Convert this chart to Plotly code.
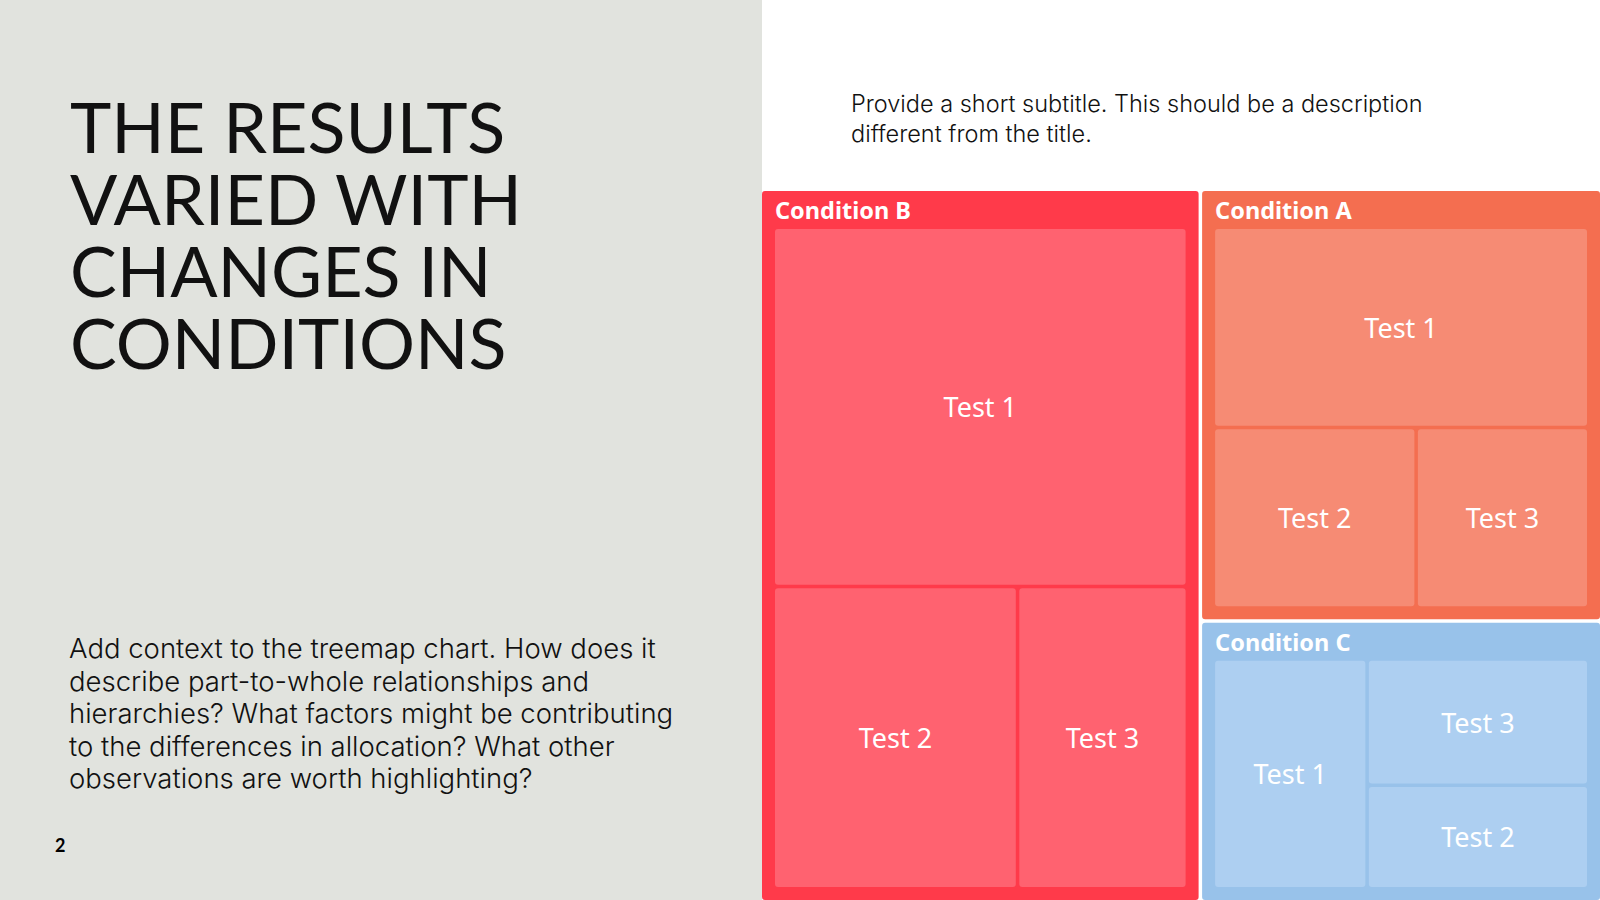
import plotly.graph_objects as go

# ---- data ----
conditions = ["Condition B", "Condition A", "Condition C"]
tests = ["Test 1", "Test 2", "Test 3"]
values_b = [28.4, 14.1, 9.8]
values_a = [15.2, 7.4, 6.3]
values_c = [7.7, 5.0, 6.1]

title_lines = ["THE RESULTS", "VARIED WITH", "CHANGES IN", "CONDITIONS"]
body_lines = [
    "Add context to the treemap chart. How does it",
    "describe part-to-whole relationships and",
    "hierarchies? What factors might be contributing",
    "to the differences in allocation? What other",
    "observations are worth highlighting?",
]
subtitle_lines = [
    "Provide a short subtitle. This should be a description",
    "different from the title.",
]
page_number = "2"

parent_colors = ["#FF3A4A", "#F46E50", "#98C2EA"]
leaf_colors = ["#FF6270", "#F68B74", "#ADCFF1"]

# ---- page geometry (px) ----
PAD_T, PAD_S = 38, 13          # header height and side padding of each condition box
W, H = 1600 + PAD_S, 900 + PAD_S  # extra strip compensates the hidden root's padding
PANEL_W = 762                  # width of the grey text panel
MAP_TOP = 191                  # top of the treemap boxes

def px_x(v):
    return v / W

def px_y(v):
    return 1 - v / H

# ---- build hierarchy ----
ids, labels, parents, vals, colors = [], [], [], [], []
all_vals = [values_b, values_a, values_c]
for i, c in enumerate(conditions):
    ids.append(c); labels.append(c); parents.append(""); vals.append(round(sum(all_vals[i]), 3))
    colors.append(parent_colors[i])
for i, c in enumerate(conditions):
    for j, t in enumerate(tests):
        ids.append(c + "/" + t); labels.append(t); parents.append(c); vals.append(all_vals[i][j])
        colors.append(leaf_colors[i])

n_par = len(conditions)
n_leaf = len(ids) - n_par
clear = "rgba(0,0,0,0)"

domain = dict(x=[px_x(PANEL_W - PAD_S), 1.0], y=[0.0, px_y(MAP_TOP - PAD_T)])
pad = dict(t=PAD_T, l=PAD_S, r=PAD_S, b=PAD_S)
FONT = "Noto Sans"

common = dict(ids=ids, labels=labels, parents=parents, values=vals,
              branchvalues="total", sort=True, domain=domain,
              pathbar=dict(visible=False), hoverinfo="skip",
              tiling=dict(packing="squarify", pad=3.5))

fig = go.Figure()
# base trace: coloured tiles + header labels
fig.add_trace(go.Treemap(
    **common,
    marker=dict(colors=colors, line=dict(width=0), pad=pad, cornerradius=3),
    textposition="top left",
    textfont=dict(family=FONT, size=25, weight=700,
                  color=["#FFFFFF"] * n_par + [clear] * n_leaf),
))
# overlay trace: centred leaf labels
fig.add_trace(go.Treemap(
    **common,
    marker=dict(colors=[clear] * len(ids), line=dict(color=clear, width=0),
                pad=pad, cornerradius=3),
    textposition="middle center",
    textfont=dict(family=FONT, size=27, weight=400,
                  color=[clear] * n_par + ["#FFFFFF"] * n_leaf),
))

annotations = []
for k, line in enumerate(title_lines):
    annotations.append(dict(text=line, x=px_x(68), y=px_y(126 + 72 * k),
                            xref="paper", yref="paper", xanchor="left", yanchor="middle",
                            showarrow=False,
                            font=dict(family="Lato", size=70, color="#111111", weight=400)))
for k, line in enumerate(body_lines):
    annotations.append(dict(text=line, x=px_x(67), y=px_y(648 + 32.6 * k),
                            xref="paper", yref="paper", xanchor="left", yanchor="middle",
                            showarrow=False,
                            font=dict(family="Inter", size=27.5, color="#111111", weight=300)))
for k, line in enumerate(subtitle_lines):
    annotations.append(dict(text=line, x=px_x(849), y=px_y(103 + 31 * k),
                            xref="paper", yref="paper", xanchor="left", yanchor="middle",
                            showarrow=False,
                            font=dict(family="Inter", size=23.5, color="#111111", weight=300)))
annotations.append(dict(text="<b>" + page_number + "</b>", x=px_x(53), y=px_y(845),
                        xref="paper", yref="paper", xanchor="left", yanchor="middle",
                        showarrow=False, font=dict(family="Lato", size=18, color="#000000")))

fig.update_layout(
    width=W, height=H,
    margin=dict(l=0, r=0, t=0, b=0),
    paper_bgcolor="#FFFFFF",
    shapes=[dict(type="rect", xref="paper", yref="paper", x0=0, x1=px_x(PANEL_W), y0=0, y1=1,
                 fillcolor="#E1E3DE", line=dict(width=0), layer="below")],
    annotations=annotations,
    showlegend=False,
)

fig.write_html(
    "out.html",
    config={"displayModeBar": False},
    post_script=("document.body.style.margin='0';"
                 "document.body.style.overflow='hidden';"
                 "document.documentElement.style.overflow='hidden';"),
)
